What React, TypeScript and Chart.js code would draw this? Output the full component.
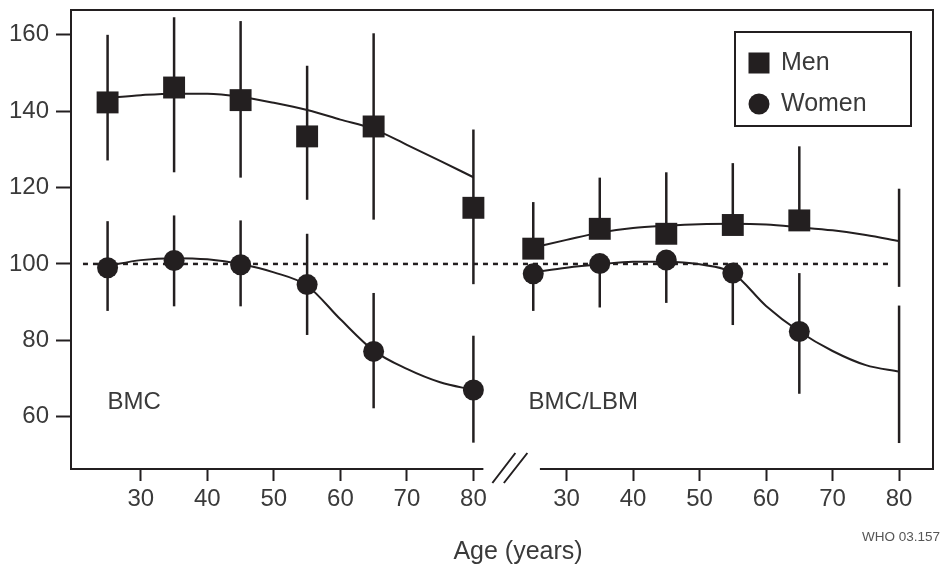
import React, { useEffect, useRef } from 'react';
import { Chart, registerables } from 'chart.js';

Chart.register(...registerables);

// ---------- data ----------
const OFFSET = 64; // right panel (BMC/LBM) ages are shifted on the shared x scale
const AGES = [25, 35, 45, 55, 65, 80];
const X_TICKS = [30, 40, 50, 60, 70, 80];
const Y_TICKS = [60, 80, 100, 120, 140, 160];

// Left panel: BMC
const MEN_BMC = [142.3, 146.2, 142.9, 133.4, 136.0, 114.7];
const MEN_BMC_HI = [160.0, 164.6, 163.6, 151.9, 160.4, 135.2];
const MEN_BMC_LO = [127.1, 124.0, 122.6, 116.8, 111.6, 94.7];
const WOMEN_BMC = [99.0, 100.9, 99.8, 94.6, 77.1, 67.0];
const WOMEN_BMC_HI = [111.2, 112.7, 111.4, 107.9, 92.4, 81.2];
const WOMEN_BMC_LO = [87.7, 88.9, 88.9, 81.4, 62.2, 53.2];

// Right panel: BMC/LBM
const MEN_LBM = [104.0, 109.2, 107.9, 110.2, 111.4, null];
const MEN_LBM_HI = [116.2, 122.6, 124.0, 126.4, 130.8, 119.7];
const MEN_LBM_LO = [null, null, null, null, null, 94.0];
const WOMEN_LBM = [97.4, 100.1, 101.0, 97.6, 82.3, null];
const WOMEN_LBM_HI = [null, null, null, null, 97.6, 89.1];
const WOMEN_LBM_LO = [87.7, 88.6, 89.8, 84.0, 66.0, 53.1];

// Fitted curves
const CURVE_AGES = [25, 30, 35, 40, 45, 50, 55, 60, 65, 70, 75, 80];
const MEN_BMC_CURVE = [143.5, 144.2, 144.6, 144.6, 143.8, 142.2, 140.3, 137.8, 135.3, 131.2, 127.0, 122.7];
const WOMEN_BMC_CURVE = [99.5, 101.0, 101.5, 101.2, 100.0, 97.8, 94.3, 85.5, 77.3, 72.5, 69.0, 67.0];
const MEN_LBM_CURVE = [104.3, 106.3, 108.2, 109.4, 110.0, 110.4, 110.5, 110.3, 109.6, 108.8, 107.6, 106.0];
const WOMEN_LBM_CURVE = [97.8, 99.0, 99.9, 100.6, 100.6, 99.9, 97.6, 89.0, 82.3, 77.2, 73.5, 71.8];

const REF_LINE_X = [21.3, 143.0];
const REF_VALUE = 100;

// ---------- style ----------
const FONT = "'Liberation Sans', Arial, Helvetica, sans-serif";
const INK = '#231f20';
const TEXT = '#3a3a3a';

const pts = (xs: number[], ys: (number | null)[], off = 0) =>
  xs.map((a, i) => ({ x: a + off, y: ys[i] })).filter((p) => p.y !== null) as { x: number; y: number }[];

const noPad = (s: any) => {
  s.paddingTop = 0;
  s.paddingBottom = 0;
  s.paddingLeft = 0;
  s.paddingRight = 0;
};

const decor = {
  id: 'decor',
  beforeDatasetsDraw(chart: any) {
    const { ctx, scales } = chart;
    const x = scales.x;
    const y = scales.y;
    ctx.save();
    ctx.strokeStyle = INK;
    ctx.lineWidth = 2.5;
    const bars = (off: number, c: (number | null)[], hi: (number | null)[], lo: (number | null)[]) => {
      AGES.forEach((a, i) => {
        const top = hi[i] ?? c[i];
        const bot = lo[i] ?? c[i];
        if (top == null || bot == null) return;
        const px = x.getPixelForValue(a + off);
        ctx.beginPath();
        ctx.moveTo(px, y.getPixelForValue(top));
        ctx.lineTo(px, y.getPixelForValue(bot));
        ctx.stroke();
      });
    };
    bars(0, MEN_BMC, MEN_BMC_HI, MEN_BMC_LO);
    bars(0, WOMEN_BMC, WOMEN_BMC_HI, WOMEN_BMC_LO);
    bars(OFFSET, MEN_LBM, MEN_LBM_HI, MEN_LBM_LO);
    bars(OFFSET, WOMEN_LBM, WOMEN_LBM_HI, WOMEN_LBM_LO);
    ctx.restore();
  },
  afterDraw(chart: any) {
    const { ctx, chartArea: a, scales } = chart;
    const x = scales.x;
    const y = scales.y;
    ctx.save();
    ctx.strokeStyle = INK;
    ctx.lineWidth = 2;
    // frame (top, left, right)
    ctx.beginPath();
    ctx.moveTo(a.left, a.bottom + 1);
    ctx.lineTo(a.left, a.top);
    ctx.lineTo(a.right, a.top);
    ctx.lineTo(a.right, a.bottom + 1);
    ctx.stroke();
    // broken bottom axis
    const bl = x.getPixelForValue(81.5);
    const br = x.getPixelForValue(OFFSET + 26);
    ctx.beginPath();
    ctx.moveTo(a.left - 1, a.bottom);
    ctx.lineTo(bl, a.bottom);
    ctx.moveTo(br, a.bottom);
    ctx.lineTo(a.right + 1, a.bottom);
    ctx.stroke();
    // break marks
    ctx.beginPath();
    ctx.moveTo(bl + 9, a.bottom + 14);
    ctx.lineTo(bl + 32, a.bottom - 16);
    ctx.moveTo(bl + 20.5, a.bottom + 14);
    ctx.lineTo(bl + 44, a.bottom - 16);
    ctx.stroke();

    // panel labels
    ctx.fillStyle = TEXT;
    ctx.font = `24px ${FONT}`;
    ctx.textBaseline = 'middle';
    ctx.textAlign = 'left';
    ctx.fillText('BMC', x.getPixelForValue(25), y.getPixelForValue(63.8));
    ctx.fillText('BMC/LBM', x.getPixelForValue(OFFSET + 24.3), y.getPixelForValue(63.8));

    // legend
    const lx = a.right - 198;
    const ly = a.top + 22;
    ctx.lineWidth = 2;
    ctx.strokeRect(lx, ly, 176, 94);
    ctx.fillStyle = INK;
    ctx.fillRect(lx + 13.5, ly + 20.5, 21, 21);
    ctx.beginPath();
    ctx.arc(lx + 24, ly + 72, 10.5, 0, Math.PI * 2);
    ctx.fill();
    ctx.fillStyle = TEXT;
    ctx.font = `25px ${FONT}`;
    ctx.fillText('Men', lx + 46, ly + 31);
    ctx.fillText('Women', lx + 46, ly + 72);

    // axis title
    ctx.font = `25px ${FONT}`;
    ctx.textAlign = 'center';
    ctx.fillText('Age (years)', 518, 552);

    // source code
    ctx.font = `13.5px ${FONT}`;
    ctx.textAlign = 'right';
    ctx.fillStyle = '#555';
    ctx.fillText('WHO 03.157', 940, 537);
    ctx.restore();
  },
};

export default function App() {
  const ref = useRef<HTMLCanvasElement>(null);
  useEffect(() => {
    if (!ref.current) return;
    const curve = (data: any) => ({
      type: 'line',
      data,
      borderColor: INK,
      borderWidth: 2,
      pointRadius: 0,
      cubicInterpolationMode: 'monotone',
      fill: false,
      order: 2,
    });
    const chart = new Chart(ref.current, {
      type: 'line',
      data: {
        datasets: [
          {
            label: 'Men',
            data: [...pts(AGES, MEN_BMC), ...pts(AGES, MEN_LBM, OFFSET)],
            showLine: false,
            pointStyle: 'rect',
            pointRadius: 15.5,
            pointBackgroundColor: INK,
            pointBorderWidth: 0,
            order: 0,
          },
          {
            label: 'Women',
            data: [...pts(AGES, WOMEN_BMC), ...pts(AGES, WOMEN_LBM, OFFSET)],
            showLine: false,
            pointStyle: 'circle',
            pointRadius: 10.5,
            pointBackgroundColor: INK,
            pointBorderWidth: 0,
            order: 0,
          },
          curve(pts(CURVE_AGES, MEN_BMC_CURVE)),
          curve(pts(CURVE_AGES, WOMEN_BMC_CURVE)),
          curve(pts(CURVE_AGES, MEN_LBM_CURVE, OFFSET)),
          curve(pts(CURVE_AGES, WOMEN_LBM_CURVE, OFFSET)),
          {
            label: 'ref',
            data: REF_LINE_X.map((v) => ({ x: v, y: REF_VALUE })),
            borderColor: INK,
            borderWidth: 2.5,
            borderDash: [5, 5],
            pointRadius: 0,
            order: 3,
          },
        ] as any,
      },
      options: {
        animation: false,
        responsive: false,
        devicePixelRatio: 1,
        layout: { autoPadding: false, padding: { top: 10, right: 11, left: 0, bottom: 0 } },
        plugins: { legend: { display: false }, tooltip: { enabled: false } },
        events: [],
        scales: {
          x: {
            type: 'linear',
            min: 19.5,
            max: 149.1,
            afterFit: (s: any) => {
              s.height = 98;
              noPad(s);
            },
            afterBuildTicks: (s: any) => {
              s.ticks = [...X_TICKS, ...X_TICKS.map((v) => v + OFFSET)].map((v) => ({ value: v }));
            },
            border: { display: false },
            grid: {
              display: true,
              drawOnChartArea: false,
              drawTicks: true,
              tickLength: 12,
              tickWidth: 2,
              tickColor: INK,
            },
            ticks: {
              autoSkip: false,
              maxRotation: 0,
              padding: 4,
              color: TEXT,
              font: { family: FONT, size: 24 },
              callback: (v: any) => String(v > 85 ? v - OFFSET : v),
            },
          },
          y: {
            type: 'linear',
            min: 46.3,
            max: 166.5,
            afterFit: (s: any) => {
              s.width = 71;
              noPad(s);
            },
            afterBuildTicks: (s: any) => {
              s.ticks = Y_TICKS.map((v) => ({ value: v }));
            },
            border: { display: false },
            grid: {
              display: true,
              drawOnChartArea: false,
              drawTicks: true,
              tickLength: 15,
              tickWidth: 2,
              tickColor: INK,
            },
            ticks: {
              padding: 7,
              color: TEXT,
              font: { family: FONT, size: 24 },
            },
          },
        },
      } as any,
      plugins: [decor],
    });
    return () => chart.destroy();
  }, []);
  return (
    <div style={{ position: 'absolute', left: 0, top: 0, width: 944, height: 567, background: '#fff' }}>
      <canvas ref={ref} width={944} height={567} />
    </div>
  );
}
